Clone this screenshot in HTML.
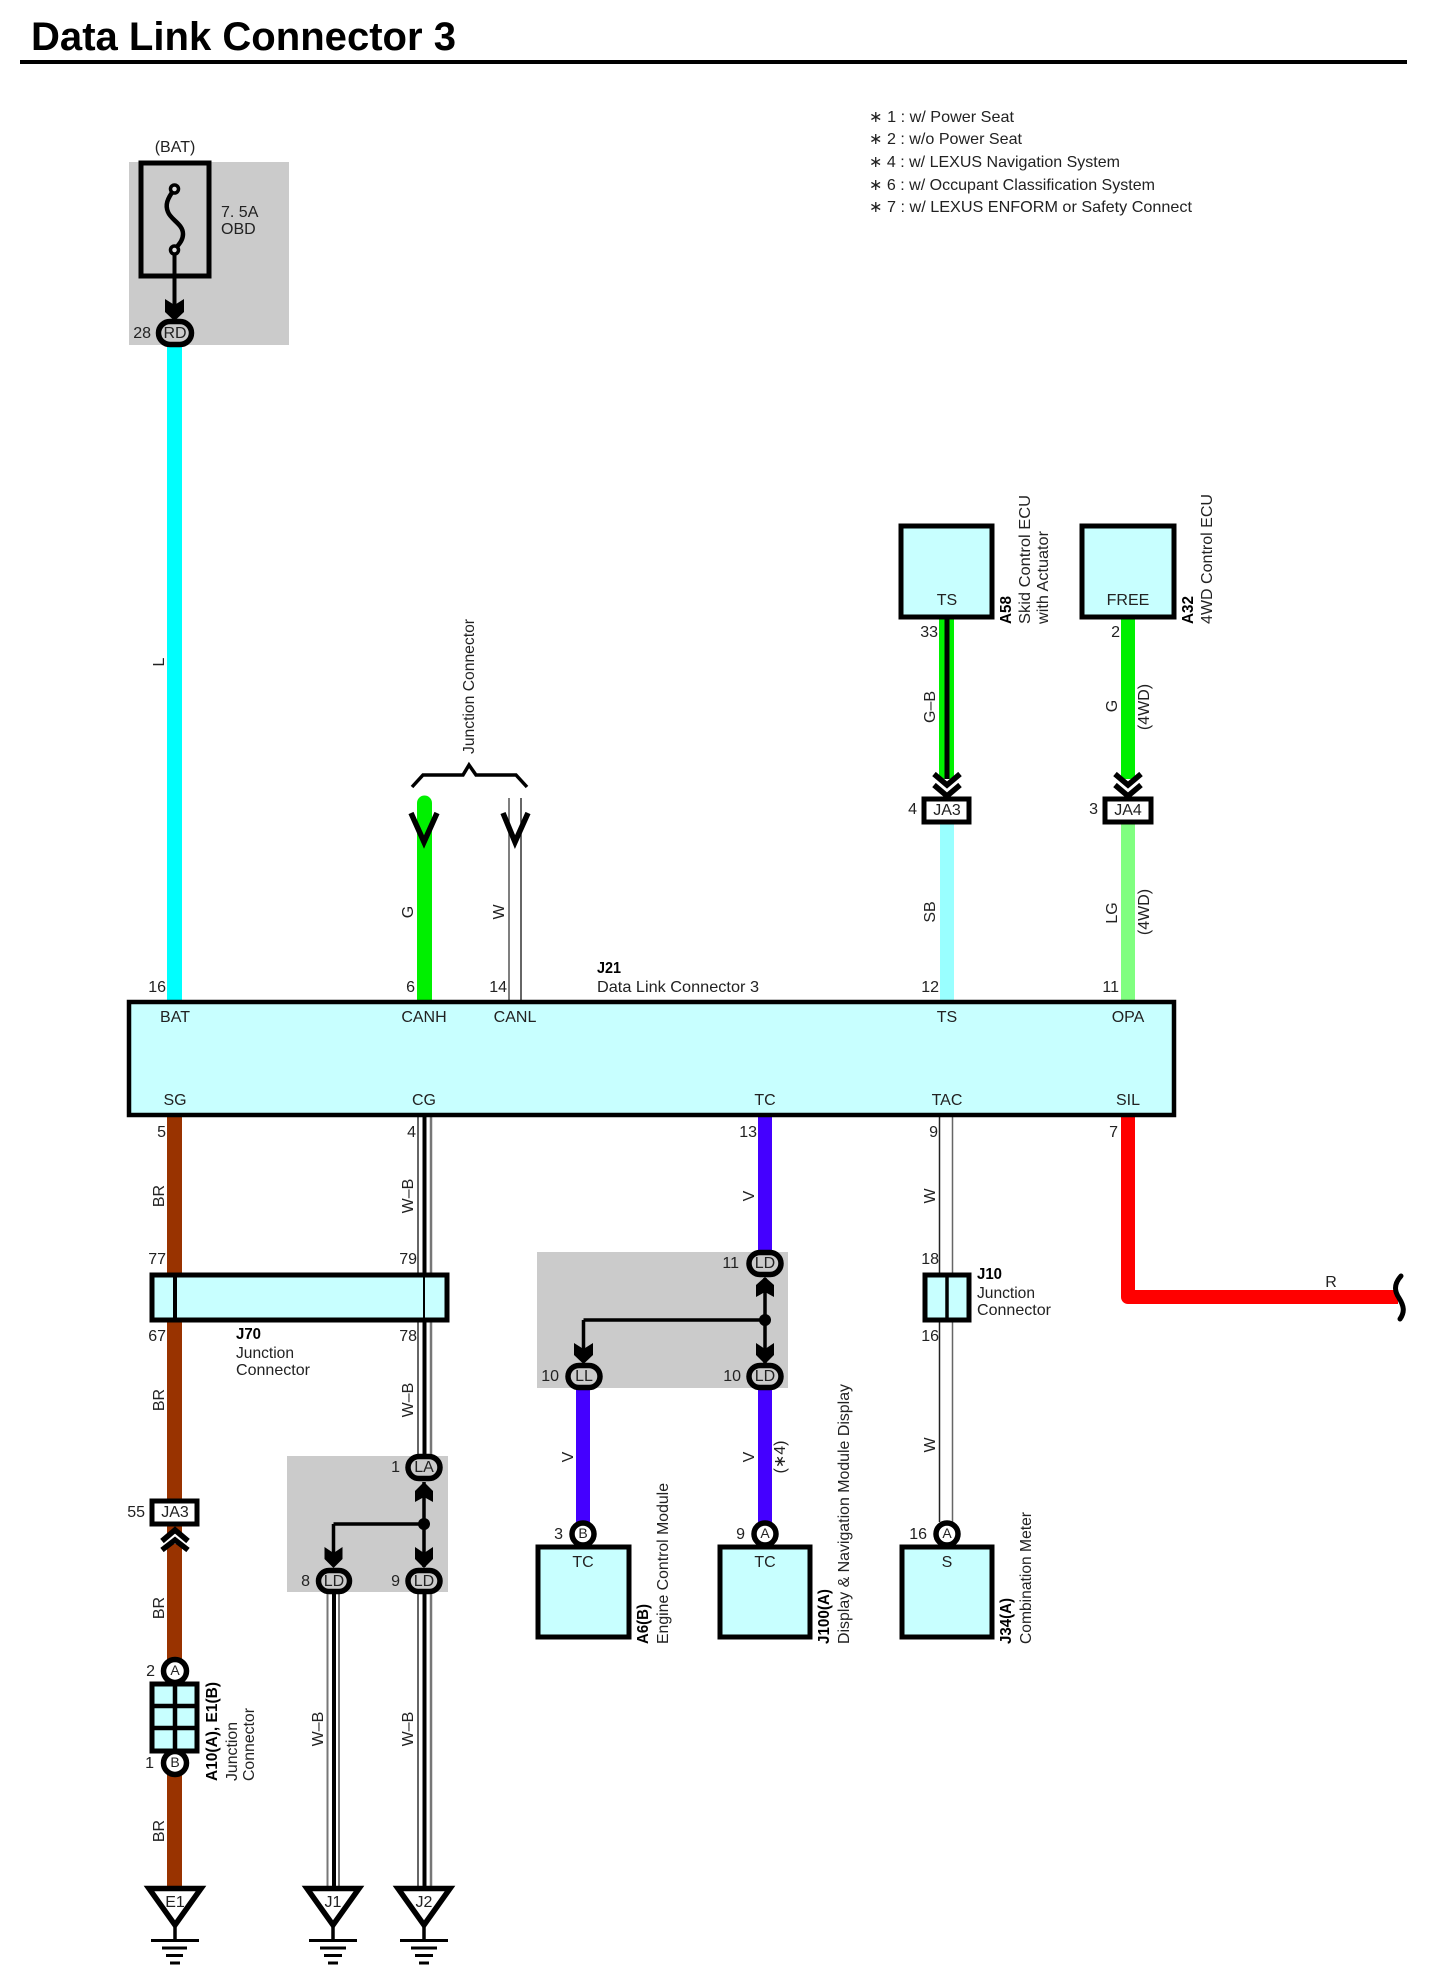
<!DOCTYPE html>
<html><head><meta charset="utf-8"><title>Data Link Connector 3</title>
<style>
html,body{margin:0;padding:0;background:#fff}
svg{display:block}
text{font-family:"Liberation Sans",Arial,sans-serif;font-size:16px;fill:#222}
.m{text-anchor:middle}
.e{text-anchor:end}
.b{font-weight:bold;fill:#000}
.n{font-size:16px}
</style></head><body>
<svg xmlns="http://www.w3.org/2000/svg" width="1430" height="1980" viewBox="0 0 1430 1980">
<rect width="1430" height="1980" fill="#fff"/>
<text x="31" y="50" class="b" style="font-size:40px" textLength="425" lengthAdjust="spacingAndGlyphs">Data Link Connector 3</text>
<rect x="20" y="60" width="1387" height="4" fill="#000"/>

<g class="n">
<text x="869" y="117" dy=".3em" class="n" textLength="145" lengthAdjust="spacingAndGlyphs">∗ 1 : w/ Power Seat</text>
<text x="869" y="139" dy=".3em" class="n" textLength="153" lengthAdjust="spacingAndGlyphs">∗ 2 : w/o Power Seat</text>
<text x="869" y="162" dy=".3em" class="n" textLength="251" lengthAdjust="spacingAndGlyphs">∗ 4 : w/ LEXUS Navigation System</text>
<text x="869" y="185" dy=".3em" class="n" textLength="286" lengthAdjust="spacingAndGlyphs">∗ 6 : w/ Occupant Classification System</text>
<text x="869" y="207" dy=".3em" class="n" textLength="323" lengthAdjust="spacingAndGlyphs">∗ 7 : w/ LEXUS ENFORM or Safety Connect</text>
</g>

<!-- gray areas -->
<rect x="129" y="162" width="160" height="183" fill="#cbcbcb"/>
<rect x="537" y="1252" width="251" height="136" fill="#cbcbcb"/>
<rect x="287" y="1456" width="161" height="136" fill="#cbcbcb"/>

<!-- color wires -->
<rect x="167" y="345" width="15" height="656" fill="#00ffff"/>
<path d="M424.5 803V1002" stroke="#00f000" stroke-width="15" stroke-linecap="round" fill="none"/>
<rect x="167" y="1116" width="15" height="770" fill="#993300"/>
<rect x="939" y="619" width="15" height="160" fill="#00f000"/>
<rect x="944.500" y="619" width="5" height="160" fill="#000"/>
<rect x="940" y="824" width="14" height="177" fill="#99ffff"/>
<rect x="1121" y="619" width="14" height="160" fill="#00f000"/>
<rect x="1121" y="824" width="14" height="177" fill="#80ff80"/>
<rect x="758" y="1116" width="14" height="136" fill="#4400ff"/>
<rect x="576" y="1388" width="14" height="140" fill="#4400ff"/>
<rect x="758" y="1388" width="14" height="140" fill="#4400ff"/>
<path d="M1128 1116V1297H1398" stroke="#ff0000" stroke-width="14" fill="none" stroke-linejoin="round"/>
<path d="M1401 1276C1393 1285 1395 1292 1399 1298C1404 1306 1405 1312 1400 1319" stroke="#000" stroke-width="5" fill="none" stroke-linecap="round"/>

<!-- white wires -->
<g fill="none" stroke-width="1.500">
<path d="M509 798V1001" stroke="#555"/><path d="M521 798V1001" stroke="#333"/>
<path d="M939.500 1116V1522" stroke="#222"/><path d="M952.500 1116V1522" stroke="#666"/>
<path d="M418 1116V1458M418 1590V1888" stroke="#333"/>
<path d="M431 1116V1458M431 1590V1888" stroke="#777" stroke-width="2.500"/>
<path d="M327.500 1590V1888M339 1590V1888" stroke="#777" stroke-width="2"/>
</g>
<path d="M424.500 1116V1458M424.500 1590V1888M334 1590V1888" stroke="#000" stroke-width="4" fill="none"/>

<!-- fuse -->
<rect x="141" y="163" width="68" height="113" fill="none" stroke="#000" stroke-width="5"/>
<path d="M174.500 189C167 199 165 205 168 212C171 220 183 224 183 234C183 241 178 245 174.500 250" stroke="#000" stroke-width="4.500" fill="none"/>
<circle cx="174.500" cy="189" r="4" fill="#ddd" stroke="#000" stroke-width="3.500"/>
<circle cx="174.500" cy="250" r="4" fill="#ddd" stroke="#000" stroke-width="3.500"/>
<path d="M174.500 254V305" stroke="#000" stroke-width="4"/>
<polygon points="165,299 174.500,305 184,299 184,312 174.500,321 165,312" fill="#000"/>
<rect x="158.500" y="321.500" width="33" height="23" rx="11.500" fill="#cbcbcb" stroke="#000" stroke-width="5.500"/>

<!-- J21 -->
<rect x="129" y="1002" width="1045" height="113" fill="#c8ffff" stroke="#000" stroke-width="4.500"/>

<!-- TS/FREE -->
<rect x="901" y="526" width="91" height="91" fill="#c8ffff" stroke="#000" stroke-width="5"/>
<rect x="1082" y="526" width="92" height="91" fill="#c8ffff" stroke="#000" stroke-width="5"/>

<!-- chevrons -->
<path d="M935 783L947 794L959 783" fill="none" stroke="#fff" stroke-width="9"/>
<path d="M1116 783L1128 794L1140 783" fill="none" stroke="#fff" stroke-width="9"/>
<g fill="none" stroke="#000" stroke-width="5.500">
<path d="M934 774L947 785L960 774"/><path d="M934 785L947 796L960 785"/>
<path d="M1115 774L1128 785L1141 774"/><path d="M1115 785L1128 796L1141 785"/>
</g>
<path d="M162 1542L175 1531L188 1542L188 1560H162Z" fill="#fff"/>
<rect x="167" y="1544" width="15" height="20" fill="#993300"/>
<g fill="none" stroke="#000" stroke-width="5.500">
<path d="M162 1541L175 1530L188 1541"/><path d="M162 1550L175 1540L188 1550"/>
<path d="M411 813L424 842L437 813" stroke-width="5.500"/>
<path d="M503 813L515 842L528 813" stroke-width="5.500"/>
<path d="M412 787L423 775H463L469 765L476 775H516L527 787" stroke-width="3.500"/>
</g>

<!-- JA boxes -->
<rect x="924" y="799" width="45" height="23" fill="#fff" stroke="#000" stroke-width="5"/>
<rect x="1105" y="799" width="46" height="23" fill="#fff" stroke="#000" stroke-width="5"/>
<rect x="152" y="1501" width="45" height="23" fill="#fff" stroke="#000" stroke-width="5"/>

<!-- J70 -->
<rect x="152" y="1275" width="295" height="45" fill="#c8ffff" stroke="#000" stroke-width="5"/>
<path d="M175 1275V1320" stroke="#000" stroke-width="4"/>
<path d="M424 1275V1320" stroke="#000" stroke-width="2"/>

<!-- J10 -->
<rect x="925" y="1275" width="44" height="45" fill="#c8ffff" stroke="#000" stroke-width="5"/>
<path d="M947 1275V1320" stroke="#000" stroke-width="3.500"/>

<!-- A10/E1 -->
<rect x="152" y="1684" width="45" height="67" fill="#c8ffff" stroke="#000" stroke-width="5"/>
<path d="M175 1684V1751M152 1706H197M152 1728H197" stroke="#000" stroke-width="4.500"/>
<circle cx="175" cy="1671" r="11.500" fill="#fff" stroke="#000" stroke-width="5.500"/>
<circle cx="175" cy="1763" r="11.500" fill="#fff" stroke="#000" stroke-width="5.500"/>

<!-- TC junction -->
<path d="M765 1278V1363M583.500 1320H765M583.500 1320V1350" stroke="#000" stroke-width="3.500" fill="none"/>
<circle cx="765" cy="1320" r="6" fill="#000"/>
<polygon points="756,1297 765,1292 774,1297 774,1285 765,1277 756,1285" fill="#000"/>
<polygon points="574,1343 583.500,1349 593,1343 593,1355 583.500,1364 574,1355" fill="#000"/>
<polygon points="756,1343 765,1349 774,1343 774,1355 765,1364 756,1355" fill="#000"/>
<rect x="749" y="1252.500" width="32" height="22" rx="11" fill="#cbcbcb" stroke="#000" stroke-width="5.500"/>
<rect x="568" y="1365.500" width="32" height="22" rx="11" fill="#cbcbcb" stroke="#000" stroke-width="5.500"/>
<rect x="749" y="1365.500" width="32" height="22" rx="11" fill="#cbcbcb" stroke="#000" stroke-width="5.500"/>

<!-- LA junction -->
<path d="M424 1482V1567M333.500 1524H424M333.500 1524V1554" stroke="#000" stroke-width="3.500" fill="none"/>
<circle cx="424" cy="1524" r="6" fill="#000"/>
<polygon points="415,1502 424,1497 433,1502 433,1491 424,1482 415,1491" fill="#000"/>
<polygon points="324.500,1547 333.500,1553 342.500,1547 342.500,1559 333.500,1568 324.500,1559" fill="#000"/>
<polygon points="415,1547 424,1553 433,1547 433,1559 424,1568 415,1559" fill="#000"/>
<rect x="408" y="1456.500" width="32" height="22" rx="11" fill="#cbcbcb" stroke="#000" stroke-width="5.500"/>
<rect x="318.500" y="1570.500" width="31" height="21" rx="10.500" fill="#cbcbcb" stroke="#000" stroke-width="5.500"/>
<rect x="408" y="1570.500" width="32" height="21" rx="10.500" fill="#cbcbcb" stroke="#000" stroke-width="5.500"/>

<!-- lower modules -->
<rect x="538" y="1547" width="91" height="90" fill="#c8ffff" stroke="#000" stroke-width="5"/>
<rect x="720" y="1547" width="90" height="90" fill="#c8ffff" stroke="#000" stroke-width="5"/>
<rect x="902" y="1547" width="90" height="90" fill="#c8ffff" stroke="#000" stroke-width="5"/>
<circle cx="583" cy="1534" r="11" fill="#fff" stroke="#000" stroke-width="5.500"/>
<circle cx="765" cy="1534" r="11" fill="#fff" stroke="#000" stroke-width="5.500"/>
<circle cx="947" cy="1534" r="11" fill="#fff" stroke="#000" stroke-width="5.500"/>

<!-- grounds -->
<g fill="#fff" stroke="#000" stroke-width="5.500" stroke-linejoin="miter">
<polygon points="149,1888.500 201,1888.500 175,1925"/>
<polygon points="307,1888.500 359,1888.500 333,1925"/>
<polygon points="398,1888.500 450,1888.500 424,1925"/>
</g>
<g stroke="#000" fill="none">
<path d="M175 1926V1940M333 1926V1940M424 1926V1940" stroke-width="3.500"/>
<path d="M151 1940.500H199M309 1940.500H357M400 1940.500H448" stroke-width="3"/>
<path d="M162 1948H187M320 1948H346M411 1948H437" stroke-width="3"/>
<path d="M166 1955.500H183M324 1955.500H342M415 1955.500H433" stroke-width="3"/>
<path d="M170 1963H180M328 1963H338M419 1963H429" stroke-width="3"/>
</g>

<!-- centred labels -->
<g class="m">
<text class="m" x="175" y="147" dy=".3em">(BAT)</text>
<text class="m" x="175" y="333" dy=".3em">RD</text>
<text class="m" x="175" y="1017" dy=".3em">BAT</text>
<text class="m" x="424" y="1017" dy=".3em">CANH</text>
<text class="m" x="515" y="1017" dy=".3em">CANL</text>
<text class="m" x="947" y="1017" dy=".3em">TS</text>
<text class="m" x="1128" y="1017" dy=".3em">OPA</text>
<text class="m" x="175" y="1100" dy=".3em">SG</text>
<text class="m" x="424" y="1100" dy=".3em">CG</text>
<text class="m" x="765" y="1100" dy=".3em">TC</text>
<text class="m" x="947" y="1100" dy=".3em">TAC</text>
<text class="m" x="1128" y="1100" dy=".3em">SIL</text>
<text class="m" x="947" y="600" dy=".3em">TS</text>
<text class="m" x="1128" y="600" dy=".3em">FREE</text>
<text class="m" x="947" y="810" dy=".3em">JA3</text>
<text class="m" x="1128" y="810" dy=".3em">JA4</text>
<text class="m" x="175" y="1512" dy=".3em">JA3</text>
<text class="m" x="175" y="1671" dy=".3em" style="font-size:14px">A</text>
<text class="m" x="175" y="1763" dy=".3em" style="font-size:14px">B</text>
<text class="m" x="583" y="1534" dy=".3em" style="font-size:14px">B</text>
<text class="m" x="765" y="1534" dy=".3em" style="font-size:14px">A</text>
<text class="m" x="947" y="1534" dy=".3em" style="font-size:14px">A</text>
<text class="m" x="583" y="1562" dy=".3em">TC</text>
<text class="m" x="765" y="1562" dy=".3em">TC</text>
<text class="m" x="947" y="1562" dy=".3em">S</text>
<text class="m" x="765" y="1263" dy=".3em">LD</text>
<text class="m" x="584" y="1376" dy=".3em">LL</text>
<text class="m" x="765" y="1376" dy=".3em">LD</text>
<text class="m" x="424" y="1467" dy=".3em">LA</text>
<text class="m" x="334" y="1581" dy=".3em">LD</text>
<text class="m" x="424" y="1581" dy=".3em">LD</text>
<text class="m" x="175" y="1902" dy=".3em">E1</text>
<text class="m" x="333" y="1902" dy=".3em">J1</text>
<text class="m" x="424" y="1902" dy=".3em">J2</text>
<text class="m" x="1331" y="1282" dy=".3em">R</text>
</g>

<!-- pin numbers -->
<text class="e" x="151" y="333" dy=".3em">28</text>
<text class="e" x="166" y="987" dy=".3em">16</text>
<text class="e" x="415" y="987" dy=".3em">6</text>
<text class="e" x="507" y="987" dy=".3em">14</text>
<text class="e" x="939" y="987" dy=".3em">12</text>
<text class="e" x="1119" y="987" dy=".3em">11</text>
<text class="e" x="938" y="632" dy=".3em">33</text>
<text class="e" x="1120" y="632" dy=".3em">2</text>
<text class="e" x="917" y="809" dy=".3em">4</text>
<text class="e" x="1098" y="809" dy=".3em">3</text>
<text class="e" x="166" y="1132" dy=".3em">5</text>
<text class="e" x="416" y="1132" dy=".3em">4</text>
<text class="e" x="757" y="1132" dy=".3em">13</text>
<text class="e" x="938" y="1132" dy=".3em">9</text>
<text class="e" x="1118" y="1132" dy=".3em">7</text>
<text class="e" x="166" y="1259" dy=".3em">77</text>
<text class="e" x="417" y="1259" dy=".3em">79</text>
<text class="e" x="166" y="1336" dy=".3em">67</text>
<text class="e" x="417" y="1336" dy=".3em">78</text>
<text class="e" x="939" y="1259" dy=".3em">18</text>
<text class="e" x="939" y="1336" dy=".3em">16</text>
<text class="e" x="739" y="1263" dy=".3em">11</text>
<text class="e" x="559" y="1376" dy=".3em">10</text>
<text class="e" x="741" y="1376" dy=".3em">10</text>
<text class="e" x="400" y="1467" dy=".3em">1</text>
<text class="e" x="310" y="1581" dy=".3em">8</text>
<text class="e" x="400" y="1581" dy=".3em">9</text>
<text class="e" x="145" y="1512" dy=".3em">55</text>
<text class="e" x="155" y="1671" dy=".3em">2</text>
<text class="e" x="154" y="1763" dy=".3em">1</text>
<text class="e" x="563" y="1534" dy=".3em">3</text>
<text class="e" x="745" y="1534" dy=".3em">9</text>
<text class="e" x="927" y="1534" dy=".3em">16</text>

<!-- horizontal component labels -->
<text x="221" y="212" dy=".3em">7. 5A</text>
<text x="221" y="229" dy=".3em">OBD</text>
<text x="597" y="968" dy=".3em" class="b" textLength="24" lengthAdjust="spacingAndGlyphs">J21</text>
<text x="597" y="987" dy=".3em" textLength="162" lengthAdjust="spacingAndGlyphs">Data Link Connector 3</text>
<text x="236" y="1334" dy=".3em" class="b" textLength="25" lengthAdjust="spacingAndGlyphs">J70</text>
<text x="236" y="1353" dy=".3em" textLength="58" lengthAdjust="spacingAndGlyphs">Junction</text>
<text x="236" y="1370" dy=".3em" textLength="74" lengthAdjust="spacingAndGlyphs">Connector</text>
<text x="977" y="1274" dy=".3em" class="b" textLength="25" lengthAdjust="spacingAndGlyphs">J10</text>
<text x="977" y="1293" dy=".3em" textLength="58" lengthAdjust="spacingAndGlyphs">Junction</text>
<text x="977" y="1310" dy=".3em" textLength="74" lengthAdjust="spacingAndGlyphs">Connector</text>

<!-- rotated wire labels -->
<text class="m" transform="translate(159,662) rotate(-90)" dy=".3em">L</text>
<text class="m" transform="translate(408,912) rotate(-90)" dy=".3em">G</text>
<text class="m" transform="translate(499,912) rotate(-90)" dy=".3em">W</text>
<text class="m" transform="translate(930,707) rotate(-90)" dy=".3em">G–B</text>
<text class="m" transform="translate(930,912) rotate(-90)" dy=".3em">SB</text>
<text class="m" transform="translate(1112,706) rotate(-90)" dy=".3em">G</text>
<text class="m" transform="translate(1144,707) rotate(-90)" dy=".3em">(4WD)</text>
<text class="m" transform="translate(1112,913) rotate(-90)" dy=".3em">LG</text>
<text class="m" transform="translate(1144,912) rotate(-90)" dy=".3em">(4WD)</text>
<text class="m" transform="translate(159,1196) rotate(-90)" dy=".3em">BR</text>
<text class="m" transform="translate(159,1400) rotate(-90)" dy=".3em">BR</text>
<text class="m" transform="translate(159,1608) rotate(-90)" dy=".3em">BR</text>
<text class="m" transform="translate(159,1831) rotate(-90)" dy=".3em">BR</text>
<text class="m" transform="translate(408,1196) rotate(-90)" dy=".3em">W–B</text>
<text class="m" transform="translate(408,1400) rotate(-90)" dy=".3em">W–B</text>
<text class="m" transform="translate(318,1729) rotate(-90)" dy=".3em">W–B</text>
<text class="m" transform="translate(408,1729) rotate(-90)" dy=".3em">W–B</text>
<text class="m" transform="translate(749,1196) rotate(-90)" dy=".3em">V</text>
<text class="m" transform="translate(930,1196) rotate(-90)" dy=".3em">W</text>
<text class="m" transform="translate(568,1457) rotate(-90)" dy=".3em">V</text>
<text class="m" transform="translate(749,1457) rotate(-90)" dy=".3em">V</text>
<text class="m" transform="translate(780,1457) rotate(-90)" dy=".3em">(∗4)</text>
<text class="m" transform="translate(930,1445) rotate(-90)" dy=".3em">W</text>

<!-- rotated component labels -->
<text transform="translate(469,754) rotate(-90)" dy=".3em" textLength="135" lengthAdjust="spacingAndGlyphs">Junction Connector</text>
<text class="b" transform="translate(1006,624) rotate(-90)" dy=".3em" textLength="28" lengthAdjust="spacingAndGlyphs">A58</text>
<text transform="translate(1025,624) rotate(-90)" dy=".3em" textLength="129" lengthAdjust="spacingAndGlyphs">Skid Control ECU</text>
<text transform="translate(1043,624) rotate(-90)" dy=".3em" textLength="93" lengthAdjust="spacingAndGlyphs">with Actuator</text>
<text class="b" transform="translate(1188,624) rotate(-90)" dy=".3em" textLength="28" lengthAdjust="spacingAndGlyphs">A32</text>
<text transform="translate(1207,624) rotate(-90)" dy=".3em" textLength="130" lengthAdjust="spacingAndGlyphs">4WD Control ECU</text>
<text class="b" transform="translate(643,1644) rotate(-90)" dy=".3em" textLength="40" lengthAdjust="spacingAndGlyphs">A6(B)</text>
<text transform="translate(663,1644) rotate(-90)" dy=".3em" textLength="161" lengthAdjust="spacingAndGlyphs">Engine Control Module</text>
<text class="b" transform="translate(824,1644) rotate(-90)" dy=".3em" textLength="55" lengthAdjust="spacingAndGlyphs">J100(A)</text>
<text transform="translate(844,1644) rotate(-90)" dy=".3em" textLength="260" lengthAdjust="spacingAndGlyphs">Display &amp; Navigation Module Display</text>
<text class="b" transform="translate(1006,1644) rotate(-90)" dy=".3em" textLength="46" lengthAdjust="spacingAndGlyphs">J34(A)</text>
<text transform="translate(1026,1644) rotate(-90)" dy=".3em" textLength="132" lengthAdjust="spacingAndGlyphs">Combination Meter</text>
<text class="b" transform="translate(212,1781) rotate(-90)" dy=".3em" textLength="99" lengthAdjust="spacingAndGlyphs">A10(A), E1(B)</text>
<text transform="translate(232,1781) rotate(-90)" dy=".3em" textLength="59" lengthAdjust="spacingAndGlyphs">Junction</text>
<text transform="translate(249,1781) rotate(-90)" dy=".3em" textLength="73" lengthAdjust="spacingAndGlyphs">Connector</text>
</svg>
</body></html>
